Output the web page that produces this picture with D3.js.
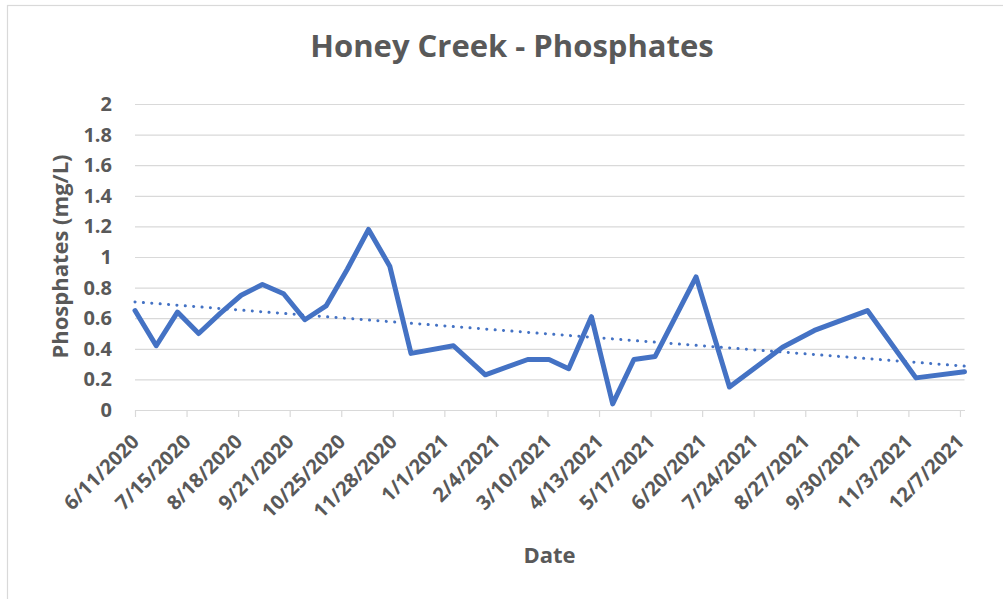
<!DOCTYPE html>
<html>
<head>
<meta charset="utf-8">
<script src="https://cdn.jsdelivr.net/npm/d3@7/dist/d3.min.js"></script>
<style>
  html, body { margin: 0; padding: 0; background: #ffffff; }
  svg { display: block; }
  text { font-family: "Open Sans", "DejaVu Sans", sans-serif; font-weight: bold; fill: #595959; }
</style>
</head>
<body>
<svg id="chart" width="1003" height="599"></svg>
<script>
// ---- Data ----
const sampleDates = [
  "6/11/2020","6/25/2020","7/9/2020","7/23/2020","8/6/2020","8/20/2020","9/3/2020",
  "9/17/2020","10/1/2020","10/15/2020","10/29/2020","11/12/2020","11/26/2020","12/10/2020",
  "1/7/2021","1/28/2021","2/25/2021","3/11/2021","3/24/2021","4/8/2021","4/22/2021",
  "5/6/2021","5/20/2021","6/16/2021","7/8/2021","8/12/2021","9/2/2021","10/7/2021",
  "11/8/2021","12/10/2021"
];
const phosphateValues = [
  0.65, 0.42, 0.64, 0.50, 0.63, 0.75, 0.82,
  0.76, 0.59, 0.68, 0.92, 1.18, 0.94, 0.37,
  0.42, 0.23, 0.33, 0.33, 0.27, 0.61, 0.04,
  0.33, 0.35, 0.87, 0.15, 0.41, 0.52, 0.65,
  0.21, 0.25
];
const xTickLabels = [
  "6/11/2020","7/15/2020","8/18/2020","9/21/2020","10/25/2020","11/28/2020",
  "1/1/2021","2/4/2021","3/10/2021","4/13/2021","5/17/2021","6/20/2021",
  "7/24/2021","8/27/2021","9/30/2021","11/3/2021","12/7/2021"
];
const xDomainLabels = ["6/11/2020", "12/10/2021"];
const yTickValues = [0, 0.2, 0.4, 0.6, 0.8, 1, 1.2, 1.4, 1.6, 1.8, 2];
const yDomain = [0, 2];
const chartTitle = "Honey Creek - Phosphates";
const xAxisTitle = "Date";
const yAxisTitle = "Phosphates (mg/L)";

// ---- Layout ----
const parse = d3.timeParse("%m/%d/%Y");
const plot = { left: 135, right: 964.5, top: 104, bottom: 410 };
const svg = d3.select("#chart");

const points = sampleDates.map((d, i) => ({ date: parse(d), value: phosphateValues[i] }));

const x = d3.scaleTime()
  .domain(xDomainLabels.map(parse))
  .range([plot.left, plot.right]);
const y = d3.scaleLinear()
  .domain(yDomain)
  .range([plot.bottom, plot.top]);

// chart frame (light border, cropped at right/bottom)
svg.append("rect")
  .attr("x", 7.5).attr("y", 5.5)
  .attr("width", 1010).attr("height", 610)
  .attr("fill", "none").attr("stroke", "#d9d9d9").attr("stroke-width", 1.2);

// gridlines + y labels
const yAxis = d3.axisLeft(y)
  .tickValues(yTickValues)
  .tickSize(-(plot.right - plot.left))
  .tickPadding(23)
  .tickFormat(d3.format("~g"));
const gy = svg.append("g")
  .attr("transform", `translate(${plot.left},0)`)
  .call(yAxis);
gy.select(".domain").remove();
gy.selectAll(".tick line").attr("stroke", "#d9d9d9").attr("stroke-width", 1.2);
gy.selectAll(".tick text")
  .attr("fill", "#595959")
  .style("font-size", "20px");

// x axis
const xAxis = d3.axisBottom(x)
  .tickValues(xTickLabels.map(parse))
  .tickSize(7)
  .tickSizeOuter(0)
  .tickFormat((d, i) => xTickLabels[i]);
const gx = svg.append("g")
  .attr("transform", `translate(0,${plot.bottom})`)
  .call(xAxis);
gx.select(".domain").attr("stroke", "#d9d9d9").attr("stroke-width", 1.2);
gx.selectAll(".tick line").attr("stroke", "#d9d9d9").attr("stroke-width", 1.2);
gx.selectAll(".tick text")
  .attr("fill", "#595959")
  .style("font-size", "20px")
  .attr("text-anchor", "end")
  .attr("y", 0)
  .attr("dy", "0.35em")
  .attr("transform", "translate(0,28) rotate(-45)");

// trendline (least squares on date)
const xs = points.map(p => +p.date);
const ys = points.map(p => p.value);
const mx = d3.mean(xs), my = d3.mean(ys);
const slope = d3.sum(xs, (v, i) => (v - mx) * (ys[i] - my)) / d3.sum(xs, v => (v - mx) * (v - mx));
const intercept = my - slope * mx;
const trendDomain = x.domain();
const trend = trendDomain.map(d => ({ date: d, value: intercept + slope * (+d) }));

const line = d3.line().x(d => x(d.date)).y(d => y(d.value));

svg.append("path")
  .datum(trend)
  .attr("d", line)
  .attr("fill", "none")
  .attr("stroke", "#4472C4")
  .attr("stroke-width", 3)
  .attr("stroke-linecap", "round")
  .attr("stroke-dasharray", "0.1 8.3");

svg.append("path")
  .datum(points)
  .attr("d", line)
  .attr("fill", "none")
  .attr("stroke", "#4472C4")
  .attr("stroke-width", 5)
  .attr("stroke-linejoin", "round")
  .attr("stroke-linecap", "round");

// titles
svg.append("text")
  .attr("x", 512).attr("y", 57)
  .attr("text-anchor", "middle")
  .style("font-size", "31px")
  .text(chartTitle);

svg.append("text")
  .attr("x", 549.5).attr("y", 563)
  .attr("text-anchor", "middle")
  .style("font-size", "22px")
  .text(xAxisTitle);

svg.append("text")
  .attr("transform", "translate(68,256.5) rotate(-90)")
  .attr("text-anchor", "middle")
  .style("font-size", "22px")
  .text(yAxisTitle);
</script>
</body>
</html>
